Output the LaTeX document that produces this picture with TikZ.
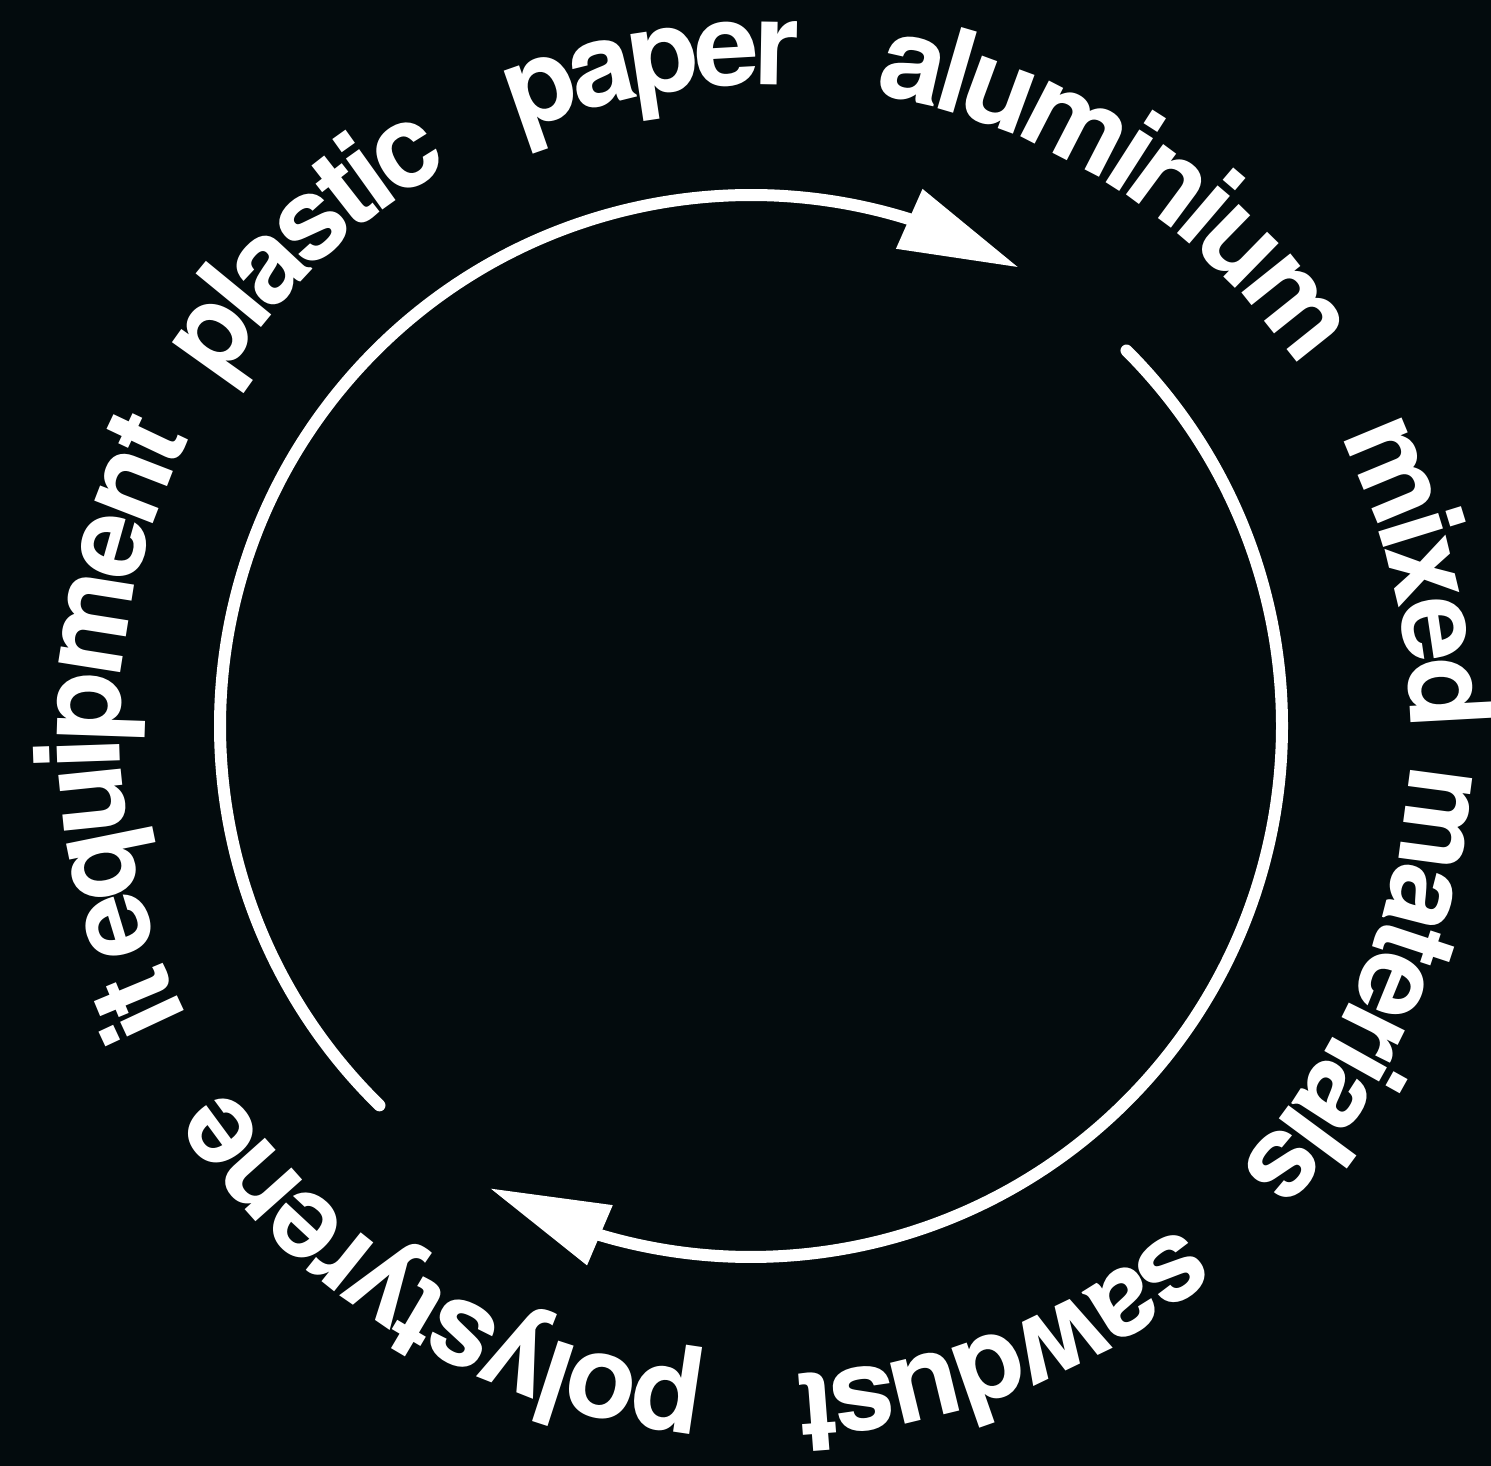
\documentclass[tikz,border=0pt]{standalone}
\usepackage{fontspec}
\newfontfamily\lbl{TeX Gyre Heros}
\newcommand\lblfont{\lbl\bfseries\fontsize{116}{120}\selectfont}
\usetikzlibrary{arrows.meta,bending}
\definecolor{bg}{RGB}{3,11,13}
\tikzset{
  ring/.style={draw=white,line width=12pt,line cap=round,
    -{Triangle[length=120pt,width=62pt,flex]}},
  letter/.style={inner sep=0pt,outer sep=0pt,anchor=base,text=white,font=\lblfont}
}
\def\textrad{645}
\def\track{-7.5}
% #1 start angle, #2 name, #3 list of letter/advance-width (per 1000 em)
\newcommand\circword[3]{%
  \foreach \ch/\w [count=\k, remember=\angN as \angC (initially #1)] in {#3}{%
    \pgfmathsetmacro\angM{\angC-(\w*0.058)/\textrad*180/pi}%
    \node[letter,rotate=\angM-90] (#2-\k) at ([shift={(\angM:\textrad)}]tc) {\ch};
    \pgfmathsetmacro\angN{\angC-(\w*0.116+\track)/\textrad*180/pi}%
  }}
\begin{document}
\begin{tikzpicture}[x=1pt,y=1pt]
\fill[bg] (0,0) rectangle (1491,1466);
\useasboundingbox (0,0) rectangle (1491,1466);
\coordinate (tc) at (765,736);
\coordinate (ac) at (751,740);
% arcs
\draw[ring] ([shift={(225.6:531)}]ac) arc[start angle=225.6,end angle=59.7,radius=531];
\draw[ring] ([shift={(45:531)}]ac) arc[start angle=45,end angle=-119.5,radius=531];
% words
\circword{206.5}{it}{i/278,t/333}
\circword{199.7}{equipment}{e/556,q/611,u/611,i/278,p/611,m/889,e/556,n/611,t/333}
\circword{147.7}{plastic}{p/611,l/278,a/556,s/556,t/333,i/278,c/556}
\circword{112.4}{paper}{p/611,a/556,p/611,e/556,r/389}
\circword{80.2}{aluminium}{a/556,l/278,u/611,m/889,i/278,n/611,i/278,u/611,m/889}
\circword{27.1}{mixed}{m/889,i/278,x/556,e/556,d/611}
\circword{-3.0}{materials}{m/889,a/556,t/333,e/556,r/389,i/278,a/556,l/278,s/556}
\circword{-50.1}{sawdust}{s/556,a/556,w/778,d/611,u/611,s/556,t/333}
\circword{-95.3}{polystyrene}{p/611,o/611,l/278,y/556,s/556,t/333,y/556,r/389,e/556,n/611,e/556}
\end{tikzpicture}
\end{document}
